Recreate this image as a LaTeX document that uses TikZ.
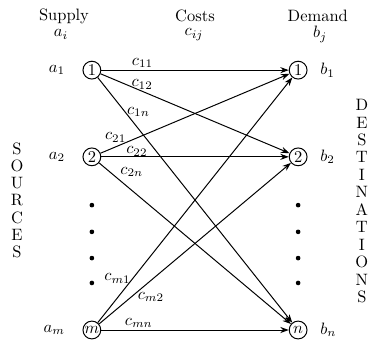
\documentclass[tikz,border=0pt]{standalone}
\usepackage{amsmath}
\usetikzlibrary{arrows.meta,positioning}
\tikzset{
  tpnode/.style={draw, circle, minimum size=3.8mm, inner sep=0pt, semithick},
  tpedge/.style={-{Stealth[length=1.8mm,width=1.3mm]}, line width=0.6pt},
  costlab/.style={inner sep=1pt},
  headlab/.style={inner sep=0pt},
  dotnode/.style={circle, fill, inner sep=0pt, minimum size=1mm},
  vertlab/.style={inner sep=0pt}
}
\begin{document}
\begin{tikzpicture}
  \useasboundingbox (0,0) rectangle (8,7.296);
  % column heads
  \node[headlab] (hsup) at (1.365,6.95) {Supply};
  \node[headlab] (hai)  at (1.30,6.56) {$a_i$};
  \node[headlab] (hcst) at (4.16,6.95) {Costs};
  \node[headlab] (hcij) at (4.14,6.56) {$c_{ij}$};
  \node[headlab] (hdem) at (6.78,6.95) {Demand};
  \node[headlab] (hbj)  at (6.83,6.56) {$b_j$};
  % sources and destinations
  \node[tpnode] (s1) at (1.96,5.80) {$1$};
  \node[tpnode] (s2) at (1.96,3.95) {$2$};
  \node[tpnode] (sm) at (1.96,0.256) {$m$};
  \node[tpnode] (d1) at (6.36,5.80) {$1$};
  \node[tpnode] (d2) at (6.36,3.95) {$2$};
  \node[tpnode] (dn) at (6.36,0.256) {$n$};
  \node[left=2.5mm of s1] (la1) {$a_1$};
  \node[left=2.5mm of s2] (la2) {$a_2$};
  \node[left=2.5mm of sm] (lam) {$a_m$};
  \node[right=1.5mm of d1] (lb1) {$b_1$};
  \node[right=1.5mm of d2] (lb2) {$b_2$};
  \node[right=1.5mm of dn] (lbn) {$b_n$};
  \foreach \y [count=\k] in {2.92,2.35,1.79,1.26}{
    \node[dotnode] (sdot\k) at (1.96,\y) {};
    \node[dotnode] (ddot\k) at (6.36,\y) {};
  }
  % side words
  \foreach \l [count=\k] in {S,O,U,R,C,E,S}
    \node[vertlab] (src\k) at (0.363,4.12-0.367*\k+0.367) {\l};
  \foreach \l [count=\k] in {D,E,S,T,I,N,A,T,I,O,N,S}
    \node[vertlab] (dst\k) at (7.72,5.055-0.372*\k+0.372) {\l};
  % cost arcs
  \draw[tpedge] (s1) -- node[costlab, pos=.22, above] {$c_{11}$} (d1);
  \draw[tpedge] (s1) -- node[costlab, pos=.22, above] {$c_{12}$} (d2);
  \draw[tpedge] (s1) -- node[costlab, pos=.14, right] {$c_{1n}$} (dn);
  \draw[tpedge] (s2) -- node[costlab, pos=.08, above, inner sep=2.5pt] {$c_{21}$} (d1);
  \draw[tpedge] (s2) -- node[costlab, pos=.19, above, inner sep=0pt] {$c_{22}$} (d2);
  \draw[tpedge] (s2) -- node[costlab, pos=.1, above right] {$c_{2n}$} (dn);
  \draw[tpedge] (sm) -- node[costlab, pos=.18, left] {$c_{m1}$} (d1);
  \draw[tpedge] (sm) -- node[costlab, pos=.27, below=2mm] {$c_{m2}$} (d2);
  \draw[tpedge] (sm) -- node[costlab, pos=.2, above] {$c_{mn}$} (dn);
\end{tikzpicture}
\end{document}
